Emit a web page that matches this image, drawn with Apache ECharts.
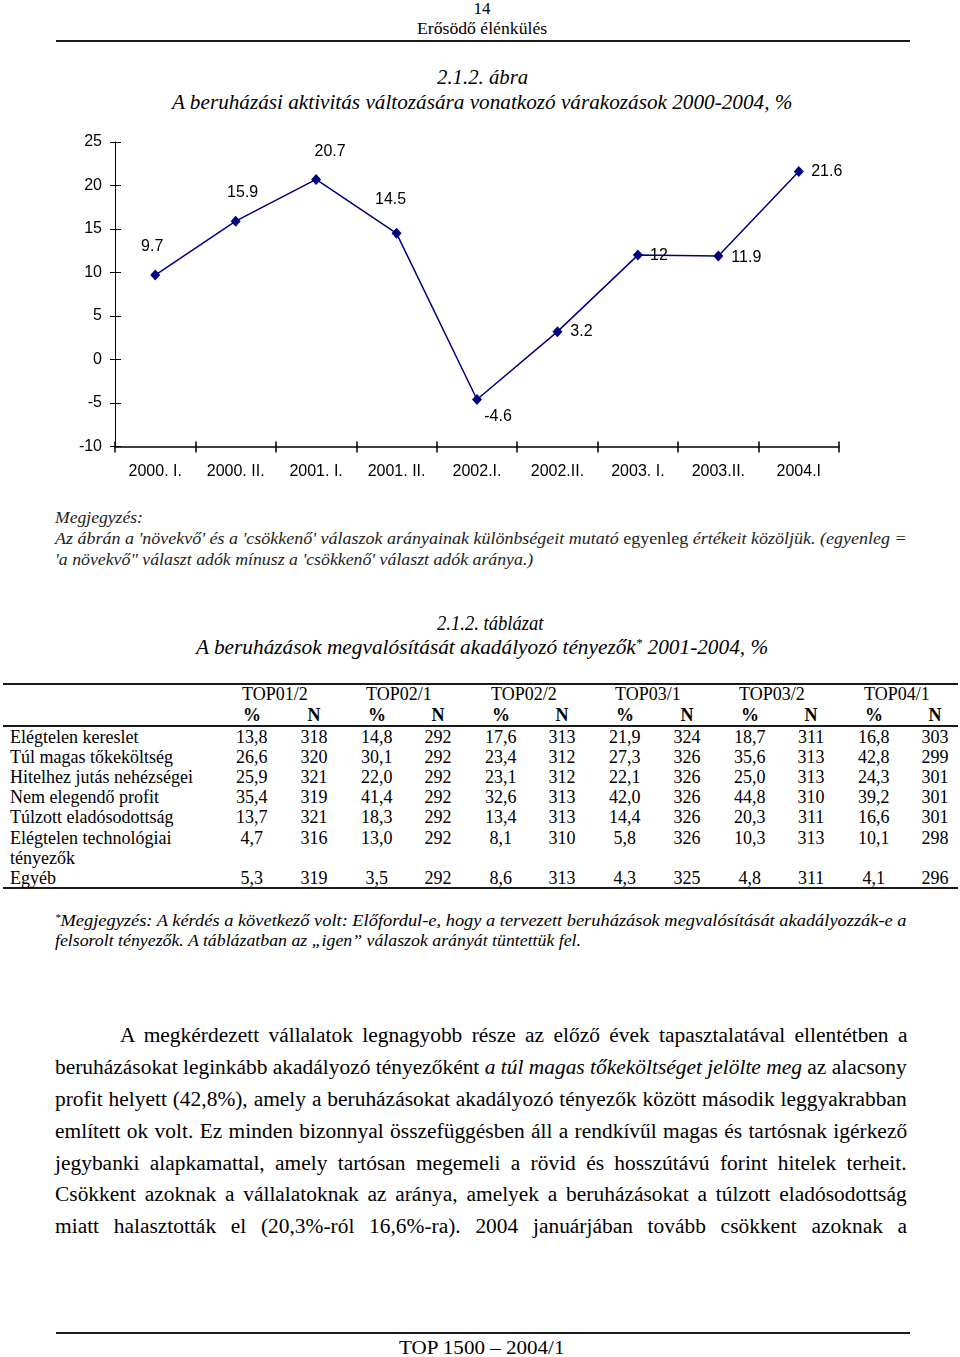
<!DOCTYPE html>
<html><head><meta charset="utf-8">
<script src="https://cdn.jsdelivr.net/npm/echarts@6/dist/echarts.min.js"></script>
<style>
html,body{margin:0;padding:0;background:#fff;}
body{width:960px;height:1357px;position:relative;overflow:hidden;font-family:"Liberation Serif","Times New Roman",serif;color:#000;}
.ln{position:absolute;white-space:nowrap;transform-origin:0 0;display:block;}
.hr{position:absolute;background:#1a1a1a;}
#chart{position:absolute;left:0;top:120px;width:960px;height:380px;}
sup{font-size:0.6em;line-height:0;vertical-align:0.55em;}
</style></head>
<body>
<div id="chart"></div>
<script>
// ---------- chart data ----------
const categories = ['2000. I.', '2000. II.', '2001. I.', '2001. II.', '2002.I.', '2002.II.', '2003. I.', '2003.II.', '2004.I'];
const balance = [9.7, 15.9, 20.7, 14.5, -4.6, 3.2, 12, 11.9, 21.6];
const yTicks = { min: -10, max: 25, interval: 5 };

// ---------- table data ----------
const waves = ['TOP01/2', 'TOP02/1', 'TOP02/2', 'TOP03/1', 'TOP03/2', 'TOP04/1'];
const rowLabels = ['Elégtelen kereslet', 'Túl magas tőkeköltség', 'Hitelhez jutás nehézségei', 'Nem elegendő profit', 'Túlzott eladósodottság', 'Elégtelen technológiai|tényezők', 'Egyéb'];
const pctValues = [
  [13.8, 14.8, 17.6, 21.9, 18.7, 16.8],
  [26.6, 30.1, 23.4, 27.3, 35.6, 42.8],
  [25.9, 22.0, 23.1, 22.1, 25.0, 24.3],
  [35.4, 41.4, 32.6, 42.0, 44.8, 39.2],
  [13.7, 18.3, 13.4, 14.4, 20.3, 16.6],
  [4.7, 13.0, 8.1, 5.8, 10.3, 10.1],
  [5.3, 3.5, 8.6, 4.3, 4.8, 4.1]
];
const nValues = [
  [318, 292, 313, 324, 311, 303],
  [320, 292, 312, 326, 313, 299],
  [321, 292, 312, 326, 313, 301],
  [319, 292, 313, 326, 310, 301],
  [321, 292, 313, 326, 311, 301],
  [316, 292, 310, 326, 313, 298],
  [319, 292, 313, 325, 311, 296]
];

// ---------- layout (not data) ----------
const labelOffsets = [[-3, -29], [7, -29], [14, -28], [-6, -34], [21, 17], [24, 0], [21, 0], [28, 2], [28, 0]];

const chart = echarts.init(document.getElementById('chart'), null, { renderer: 'canvas' });
const axisFont = { fontFamily: '"Liberation Sans", Arial, sans-serif', fontSize: 16, color: '#000' };
chart.setOption({
  animation: false,
  grid: { left: 115, top: 22, width: 724, height: 304.5, containLabel: false },
  xAxis: [
    { type: 'category', data: categories, position: 'bottom', boundaryGap: true,
      axisLine: { onZero: false, lineStyle: { color: '#000', width: 1.5 } },
      axisTick: { show: true, inside: false, length: 6, lineStyle: { color: '#000', width: 1.5 } },
      axisLabel: Object.assign({ margin: 17, interval: 0 }, axisFont),
      splitLine: { show: false } },
    { type: 'category', data: categories, position: 'bottom', offset: 0, boundaryGap: true,
      axisLine: { show: false, onZero: false },
      axisTick: { show: true, inside: true, length: 5, lineStyle: { color: '#000', width: 1.5 } },
      axisLabel: { show: false }, splitLine: { show: false } }
  ],
  yAxis: [
    { type: 'value', min: yTicks.min, max: yTicks.max, interval: yTicks.interval, position: 'left',
      axisLine: { show: true, onZero: false, lineStyle: { color: '#000', width: 1 } },
      axisTick: { show: true, inside: false, length: 5, lineStyle: { color: '#000', width: 1 } },
      axisLabel: Object.assign({ margin: 13 }, axisFont),
      splitLine: { show: false } },
    { type: 'value', min: yTicks.min, max: yTicks.max, interval: yTicks.interval, position: 'left', offset: 0,
      axisLine: { show: false, onZero: false },
      axisTick: { show: true, inside: true, length: 6, lineStyle: { color: '#000', width: 1 } },
      axisLabel: { show: false }, splitLine: { show: false } }
  ],
  series: [{
    type: 'line', xAxisIndex: 0, yAxisIndex: 0,
    data: balance.map((v, i) => ({ value: v, label: { offset: labelOffsets[i] } })),
    symbol: 'diamond', symbolSize: [10, 11], showAllSymbol: true,
    itemStyle: { color: '#000080' },
    lineStyle: { color: '#000080', width: 1.5 },
    label: Object.assign({ show: true, position: 'inside' }, axisFont)
  }]
});

// ---------- page text ----------
function mk(o) {
  const d = document.createElement('div');
  d.className = 'ln';
  d.innerHTML = o.html;
  d.style.fontSize = o.fs + 'px';
  d.style.lineHeight = (o.fs * 1.2) + 'px';
  d.style.top = (o.y - o.fs * 0.6) + 'px';
  if (o.italic) d.style.fontStyle = 'italic';
  if (o.bold) d.style.fontWeight = 'bold';
  if (o.color) d.style.color = o.color;
  document.body.appendChild(d);
  o.el = d;
  o.nat = d.offsetWidth;
  return o;
}
function place(o, k, justify) {
  const d = o.el;
  if (justify) {
    const spaces = (d.textContent.match(/ /g) || []).length;
    if (spaces > 0) d.style.wordSpacing = ((o.w / k - o.nat) / spaces) + 'px';
  }
  const visW = justify ? o.w : o.nat * k;
  let left = o.x;
  if (o.align === 'center') left = o.x - visW / 2;
  if (o.align === 'right') left = o.x - visW;
  d.style.left = left + 'px';
  d.style.transform = 'scaleX(' + k + ')';
}
function single(o) { mk(o); place(o, o.w ? o.w / o.nat : 1, false); }
function block(lines) {
  lines.forEach(mk);
  const js = lines.filter(l => l.j);
  const k = Math.min.apply(null, js.map(l => l.w / l.nat));
  lines.forEach(l => place(l, l.j ? k : (l.w ? l.w / l.nat : k), !!l.j));
}
function hr(x1, x2, y, h) {
  const d = document.createElement('div'); d.className = 'hr';
  d.style.left = x1 + 'px'; d.style.width = (x2 - x1) + 'px';
  d.style.top = (y - h / 2) + 'px'; d.style.height = h + 'px';
  document.body.appendChild(d);
}

// header
single({ html: '14', x: 482, y: 9, fs: 17, align: 'center' });
single({ html: 'Erősödő élénkülés', x: 417, y: 29, fs: 17, w: 130 });
hr(56, 910, 41, 2);

// figure titles
single({ html: '2.1.2. ábra', x: 437, y: 78, fs: 21, w: 91, italic: true });
single({ html: 'A beruházási aktivitás változására vonatkozó várakozások 2000-2004, %', x: 172, y: 103, fs: 21, w: 620, italic: true });

// note under figure
block([
  { html: 'Megjegyzés:', x: 55, y: 518, fs: 16, w: 88, italic: true, color: '#222' },
  { html: "Az ábrán a 'növekvő' és a 'csökkenő' válaszok arányainak különbségeit mutató <span style=\"font-style:normal\">egyenleg</span> értékeit közöljük. (egyenleg =", x: 55, y: 539, fs: 16, w: 852, italic: true, j: true, color: '#222' },
  { html: "'a növekvő\" választ adók mínusz a 'csökkenő' választ adók aránya.)", x: 55, y: 560, fs: 16, w: 478, italic: true, color: '#222' }
]);

// table title
single({ html: '2.1.2. táblázat', x: 437, y: 623, fs: 20, w: 106, italic: true });
single({ html: 'A beruházások megvalósítását akadályozó tényezők<sup>*</sup> 2001-2004, %', x: 196, y: 647, fs: 20, w: 572, italic: true });

// table
hr(3, 958, 684, 2);
hr(3, 958, 726, 1.5);
hr(3, 958, 888, 2);
const pctX = [252, 377, 501, 625, 750, 874];
const nX = [314, 438, 562, 687, 811, 935];
const grpX = [275, 399, 524, 648, 772, 897];
const rowY = [737.5, 757.7, 778, 798, 818, 838.5, 878.5];
const tfs = 18;
waves.forEach((w, i) => {
  single({ html: w, x: grpX[i], y: 695, fs: tfs, align: 'center' });
  single({ html: '%', x: pctX[i], y: 716, fs: tfs, align: 'center', bold: true });
  single({ html: 'N', x: nX[i], y: 716, fs: tfs, align: 'center', bold: true });
});
rowLabels.forEach((lab, r) => {
  const parts = lab.split('|');
  parts.forEach((p, pi) => single({ html: p, x: 10, y: rowY[r] + pi * 20.2, fs: tfs }));
  pctValues[r].forEach((v, i) => single({ html: v.toFixed(1).replace('.', ','), x: pctX[i], y: rowY[r], fs: tfs, align: 'center' }));
  nValues[r].forEach((v, i) => single({ html: String(v), x: nX[i], y: rowY[r], fs: tfs, align: 'center' }));
});

// footnote
block([
  { html: '<sup>*</sup>Megjegyzés: A kérdés a következő volt: Előfordul-e, hogy a tervezett beruházások megvalósítását akadályozzák-e a', x: 55, y: 921, fs: 16, w: 852, italic: true, j: true },
  { html: 'felsorolt tényezők. A táblázatban az „igen” válaszok arányát tüntettük fel.', x: 55, y: 941, fs: 16, w: 526, italic: true }
]);

// body paragraph
block([
  { html: 'A megkérdezett vállalatok legnagyobb része az előző évek tapasztalatával ellentétben a', x: 120, y: 1035, fs: 20, w: 787, j: true },
  { html: 'beruházásokat leginkább akadályozó tényezőként <i>a túl magas tőkeköltséget jelölte meg</i> az alacsony', x: 55, y: 1067, fs: 20, w: 852, j: true },
  { html: 'profit helyett (42,8%), amely a beruházásokat akadályozó tényezők között második leggyakrabban', x: 55, y: 1099, fs: 20, w: 852, j: true },
  { html: 'említett ok volt. Ez minden bizonnyal összefüggésben áll a rendkívűl magas és tartósnak igérkező', x: 55, y: 1131, fs: 20, w: 852, j: true },
  { html: 'jegybanki alapkamattal, amely tartósan megemeli a rövid és hosszútávú forint hitelek terheit.', x: 55, y: 1163, fs: 20, w: 852, j: true },
  { html: 'Csökkent azoknak a vállalatoknak az aránya, amelyek a beruházásokat a túlzott eladósodottság', x: 55, y: 1194, fs: 20, w: 852, j: true },
  { html: 'miatt halasztották el (20,3%-ról 16,6%-ra). 2004 januárjában tovább csökkent azoknak a', x: 55, y: 1226, fs: 20, w: 852, j: true }
]);

// footer
hr(56, 910, 1333, 1.5);
single({ html: 'TOP 1500 – 2004/1', x: 399, y: 1348, fs: 19, w: 165 });
</script>
</body></html>
